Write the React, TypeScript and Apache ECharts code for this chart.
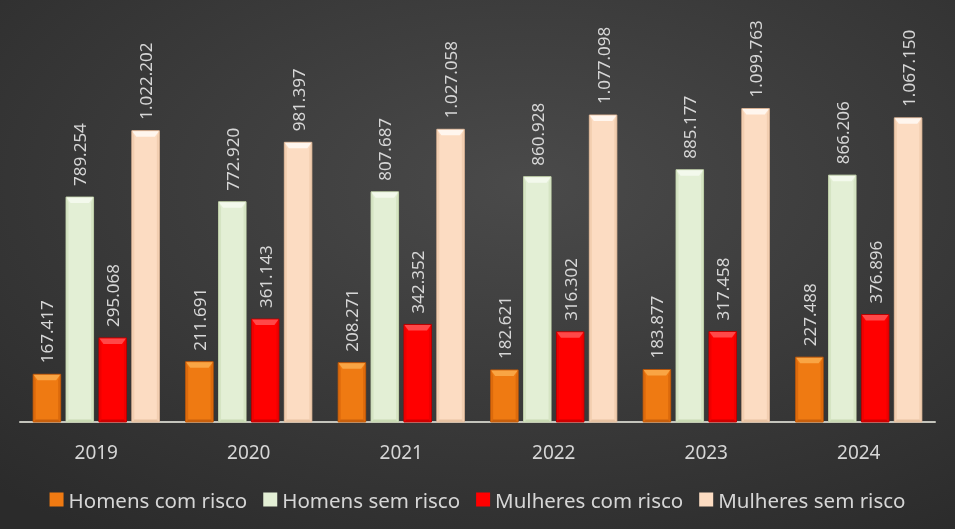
import React, { useEffect, useRef } from "react";
import * as echarts from "echarts";

const years = ["2019", "2020", "2021", "2022", "2023", "2024"];
const seriesNames = ["Homens com risco", "Homens sem risco", "Mulheres com risco", "Mulheres sem risco"];
const homensComRisco = [167417, 211691, 208271, 182621, 183877, 227488];
const homensSemRisco = [789254, 772920, 807687, 860928, 885177, 866206];
const mulheresComRisco = [295068, 361143, 342352, 316302, 317458, 376896];
const mulheresSemRisco = [1022202, 981397, 1027058, 1077098, 1099763, 1067150];

const seriesValues = [homensComRisco, homensSemRisco, mulheresComRisco, mulheresSemRisco];

const palettes = [
  { face: "#EF7A12", top: "#F9A544", side: "#DC6A0C", bottom: "#C9600C", border: "#B9560A" },
  { face: "#E3EFD5", top: "#F3F9EC", side: "#D5E4C3", bottom: "#C9D9B3", border: "#BFCFA8" },
  { face: "#FF0000", top: "#FF4848", side: "#EE0000", bottom: "#D00000", border: "#B80000" },
  { face: "#FCDCC2", top: "#FFF6EE", side: "#F2CEB0", bottom: "#E7C2A2", border: "#DDB596" },
];

function fmt(v: number): string {
  return String(Math.round(v)).replace(/\B(?=(\d{3})+(?!\d))/g, ".");
}

export default function App() {
  const ref = useRef<HTMLDivElement>(null);
  useEffect(() => {
    if (!ref.current) return;
    const chart = echarts.init(ref.current, null, { renderer: "svg" });
    const makeRender = (sIdx: number) => (params: any, api: any) => {
      const cat = api.value(0);
      const val = api.value(1);
      const top = api.coord([cat, val]);
      const base = api.coord([cat, 0]);
      const band = api.size([1, 0])[0];
      const bw = band * 0.1803;
      const gap = band * 0.0354;
      const groupW = 4 * bw + 3 * gap;
      const x = top[0] - groupW / 2 + sIdx * (bw + gap);
      const y = top[1];
      const yb = base[1];
      const h = yb - y;
      const p = palettes[sIdx];
      const bt = 6;
      const bs = 2.5;
      return {
        type: "group",
        children: [
          { type: "rect", shape: { x, y, width: bw, height: h }, style: { fill: p.face, stroke: p.border, lineWidth: 1 } },
          { type: "polygon", shape: { points: [[x + 0.5, y + 0.5], [x + bw - 0.5, y + 0.5], [x + bw - bs - 2, y + bt], [x + bs + 2, y + bt]] }, style: { fill: p.top } },
          { type: "polygon", shape: { points: [[x + 0.5, y + 0.5], [x + bs, y + bt], [x + bs, yb - bs], [x + 0.5, yb]] }, style: { fill: p.side } },
          { type: "polygon", shape: { points: [[x + bw - 0.5, y + 0.5], [x + bw - bs, y + bt], [x + bw - bs, yb - bs], [x + bw - 0.5, yb]] }, style: { fill: p.side } },
          { type: "polygon", shape: { points: [[x + 0.5, yb], [x + bs, yb - bs], [x + bw - bs, yb - bs], [x + bw - 0.5, yb]] }, style: { fill: p.bottom } },
          {
            type: "text",
            x: x + bw / 2,
            y: y - 11,
            rotation: Math.PI / 2,
            style: {
              text: fmt(val),
              fill: "#d6d6d6",
              font: "17px 'Noto Sans'",
              align: "left",
              verticalAlign: "middle",
            },
          },
        ],
      };
    };
    chart.setOption({
      animation: false,
      backgroundColor: {
        type: "radial",
        x: 0.55,
        y: 0.35,
        r: 0.8,
        colorStops: [
          { offset: 0, color: "#4a4a4a" },
          { offset: 1, color: "#2b2b2b" },
        ],
      },
      grid: { left: 20, right: 20, top: 80, bottom: 107 },
      legend: {
        top: 484,
        left: "center",
        icon: "rect",
        itemWidth: 14,
        itemHeight: 14,
        itemGap: 16,
        textStyle: { color: "#d6d6d6", fontSize: 20.5, fontFamily: "Noto Sans" },
        data: seriesNames,
      },
      xAxis: {
        type: "category",
        data: years,
        axisLine: { lineStyle: { color: "#c4c4bc", width: 2 } },
        axisTick: { show: false },
        axisLabel: { color: "#d6d6d6", fontSize: 19, fontFamily: "Noto Sans", margin: 20 },
      },
      yAxis: { type: "value", min: 0, max: 1200000, show: false, splitLine: { show: false } },
      series: seriesValues.map((vals, i) => ({
        type: "custom",
        name: seriesNames[i],
        itemStyle: { color: palettes[i].face, borderColor: palettes[i].border },
        encode: { x: 0, y: 1 },
        data: vals.map((v, j) => [j, v]),
        renderItem: makeRender(i),
      })),
    });
    return () => chart.dispose();
  }, []);
  return <div ref={ref} style={{ position: "fixed", left: 0, top: 0, width: 955, height: 529 }} />;
}
